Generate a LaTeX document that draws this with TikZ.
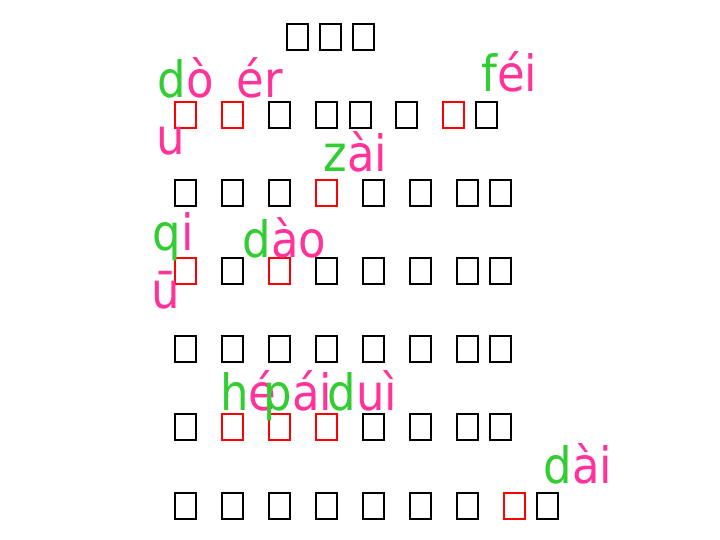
\documentclass[tikz,border=0pt]{standalone}
\usepackage{fontspec}
\newfontfamily\pyfont[FakeStretch=0.9]{DejaVu Sans}
\definecolor{pygreen}{RGB}{50,205,50}
\definecolor{pypink}{RGB}{255,51,153}
\tikzset{
  tofu/.style={draw, line width=2pt, minimum width=21pt, minimum height=26pt, inner sep=0pt},
  hot/.style={tofu, draw=red},
  py/.style={inner sep=0pt, anchor=base west, font=\pyfont\fontsize{50}{60}\selectfont},
}

\begin{document}
\begin{tikzpicture}[x=1pt,y=-1pt]
\useasboundingbox[fill=white] (0,0) rectangle (720,540);
% title
\node[tofu] (T1) at (297.5,37) {};
\node[tofu] (T2) at (330.5,37) {};
\node[tofu] (T3) at (363.5,37) {};
% line 1
\node[hot]  (A1) at (185.5,115) {};
\node[hot]  (A2) at (232.5,115) {};
\node[tofu] (A3) at (279.5,115) {};
\node[tofu] (A4) at (326.5,115) {};
\node[tofu] (A5) at (360.5,115) {};
\node[tofu] (A6) at (406.5,115) {};
\node[hot]  (A7) at (453.5,115) {};
\node[tofu] (A8) at (486.5,115) {};
% line 2
\node[tofu] (B1) at (185.5,193) {};
\node[tofu] (B2) at (232.5,193) {};
\node[tofu] (B3) at (279.5,193) {};
\node[hot]  (B4) at (326.5,193) {};
\node[tofu] (B5) at (373.5,193) {};
\node[tofu] (B6) at (420.5,193) {};
\node[tofu] (B7) at (467.5,193) {};
\node[tofu] (B8) at (500.5,193) {};
% line 3
\node[hot]  (C1) at (185.5,271) {};
\node[tofu] (C2) at (232.5,271) {};
\node[hot]  (C3) at (279.5,271) {};
\node[tofu] (C4) at (326.5,271) {};
\node[tofu] (C5) at (373.5,271) {};
\node[tofu] (C6) at (420.5,271) {};
\node[tofu] (C7) at (467.5,271) {};
\node[tofu] (C8) at (500.5,271) {};
% line 4
\node[tofu] (D1) at (185.5,349) {};
\node[tofu] (D2) at (232.5,349) {};
\node[tofu] (D3) at (279.5,349) {};
\node[tofu] (D4) at (326.5,349) {};
\node[tofu] (D5) at (373.5,349) {};
\node[tofu] (D6) at (420.5,349) {};
\node[tofu] (D7) at (467.5,349) {};
\node[tofu] (D8) at (500.5,349) {};
% line 5
\node[tofu] (E1) at (185.5,427) {};
\node[hot]  (E2) at (232.5,427) {};
\node[hot]  (E3) at (279.5,427) {};
\node[hot]  (E4) at (326.5,427) {};
\node[tofu] (E5) at (373.5,427) {};
\node[tofu] (E6) at (420.5,427) {};
\node[tofu] (E7) at (467.5,427) {};
\node[tofu] (E8) at (500.5,427) {};
% line 6
\node[tofu] (F1) at (185.5,506) {};
\node[tofu] (F2) at (232.5,506) {};
\node[tofu] (F3) at (279.5,506) {};
\node[tofu] (F4) at (326.5,506) {};
\node[tofu] (F5) at (373.5,506) {};
\node[tofu] (F6) at (420.5,506) {};
\node[tofu] (F7) at (467.5,506) {};
\node[hot]  (F8) at (514.5,506) {};
\node[tofu] (F9) at (547.5,506) {};
% pinyin
\node[py] (douA) at (157.5,98) {\color{pygreen}d\color{pypink}ò};
\node[py] (douB) at (156,155) {\color{pypink}u};
\node[py] (er)   at (236.5,98) {\color{pypink}ér};
\node[py] (fei)  at (481,92) {\color{pygreen}f\color{pypink}éi};
\node[py] (zai)  at (323.5,172) {\color{pygreen}z\color{pypink}ài};
\node[py] (qiuA) at (152.5,250) {\color{pygreen}q\color{pypink}i};
\node[py] (qiuB) at (151,308) {\color{pypink}ū};
\node[py] (dao)  at (242.5,257) {\color{pygreen}d\color{pypink}ào};
\node[py] (he)   at (220,410) {\color{pygreen}h\color{pypink}é};
\node[py] (pai)  at (263.5,410) {\color{pygreen}p\color{pypink}ái};
\node[py] (dui)  at (327.5,410) {\color{pygreen}d\color{pypink}uì};
\node[py] (dai)  at (543.5,483) {\color{pygreen}d\color{pypink}ài};
\end{tikzpicture}
\end{document}
